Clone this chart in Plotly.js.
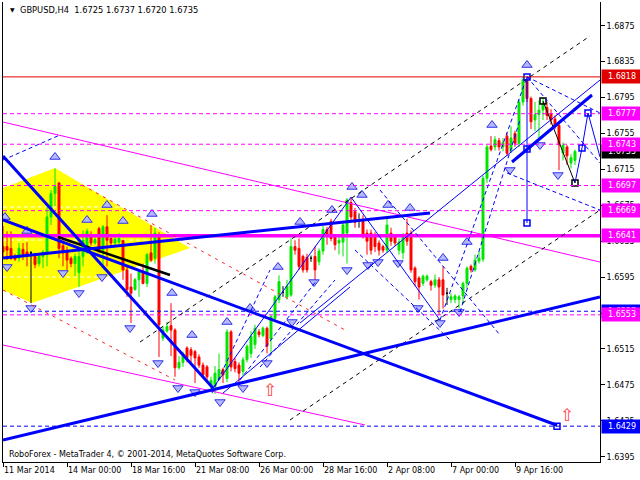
<!DOCTYPE html>
<html><head><meta charset="utf-8">
<script src="https://cdn.plot.ly/plotly-3.0.1.min.js"></script>
<style>html,body{margin:0;padding:0;background:#fff}#chart{width:640px;height:480px}</style>
</head><body><div id="chart"></div>
<script>
// ---------- DATA ----------
const barIndex = [2,3,4,5,6,7,8,9,10,11,12,13,14,15,16,17,18,19,20,21,22,23,24,25,26,27,28,29,30,31,32,33,34,35,36,37,38,39,40,41,42,43,44,45,46,47,48,49,50,51,52,53,54,55,56,57,58,59,60,61,62,63,64,65,66,67,68,69,70,71,72,73,74,75,76,77,78,79,80,81,82,83,84,85,86,87,88,89,90,91,92,93,94,95,96,97,98,99,100,101,102,103,104,105,106,107,108,109,110,111,112,113,114,115,116,117,118,119,120,121,122,123,124,125,126,127,128,129,130,131,132,133,134,135,136,137,138,139,140,141,142,143,144,145];
const opens = [
1.6629,1.6629,1.6627,1.6618,1.6616,1.6626,1.6623,1.6622,1.6618,1.6610,
1.6618,1.6622,1.6662,1.6688,1.6700,1.6630,1.6623,1.6616,1.6610,1.6600,
1.6618,1.6623,1.6642,1.6633,1.6649,1.6625,1.6651,1.6638,1.6633,1.6634,
1.6636,1.6603,1.6584,1.6581,1.6592,1.6601,1.6588,1.6622,1.6616,1.6642,
1.6527,1.6535,1.6541,1.6536,1.6494,1.6500,1.6516,1.6514,1.6512,1.6506,
1.6497,1.6495,1.6473,1.6473,1.6481,1.6492,1.6482,1.6534,1.6501,1.6497,
1.6490,1.6503,1.6510,1.6520,1.6534,1.6530,1.6538,1.6526,1.6549,1.6570,
1.6578,1.6573,1.6575,1.6629,1.6627,1.6618,1.6617,1.6616,1.6618,1.6612,
1.6624,1.6648,1.6657,1.6640,1.6633,1.6634,1.6644,1.6678,1.6668,1.6658,
1.6657,1.6644,1.6644,1.6642,1.6633,1.6629,1.6625,1.6644,1.6640,1.6625,
1.6622,1.6644,1.6644,1.6605,1.6594,1.6588,1.6592,1.6590,1.6586,1.6592,
1.6592,1.6577,1.6570,1.6570,1.6570,1.6574,1.6588,1.6607,1.6603,1.6613,
1.6615,1.6705,1.6741,1.6740,1.6747,1.6740,1.6752,1.6736,1.6755,1.6744,
1.6790,1.6815,1.6794,1.6770,1.6776,1.6781,1.6784,1.6777,1.6771,1.6764,
1.6733,1.6740,1.6722,1.6725];
const highs = [
1.6652,1.6646,1.6646,1.6621,1.6633,1.6633,1.6634,1.6624,1.6621,1.6620,
1.6625,1.6673,1.6692,1.6716,1.6700,1.6636,1.6629,1.6618,1.6621,1.6625,
1.6647,1.6649,1.6646,1.6640,1.6651,1.6653,1.6664,1.6641,1.6640,1.6644,
1.6636,1.6607,1.6599,1.6594,1.6603,1.6610,1.6622,1.6653,1.6650,1.6645,
1.6540,1.6545,1.6566,1.6538,1.6507,1.6512,1.6518,1.6517,1.6514,1.6509,
1.6500,1.6497,1.6484,1.6496,1.6510,1.6494,1.6537,1.6536,1.6505,1.6500,
1.6506,1.6520,1.6535,1.6542,1.6537,1.6540,1.6540,1.6553,1.6575,1.6597,
1.6585,1.6592,1.6638,1.6636,1.6638,1.6620,1.6621,1.6619,1.6629,1.6627,
1.6652,1.6651,1.6660,1.6643,1.6640,1.6656,1.6683,1.6684,1.6672,1.6666,
1.6664,1.6648,1.6648,1.6645,1.6636,1.6631,1.6660,1.6650,1.6643,1.6638,
1.6644,1.6660,1.6647,1.6607,1.6596,1.6598,1.6598,1.6592,1.6598,1.6595,
1.6607,1.6583,1.6577,1.6576,1.6575,1.6590,1.6607,1.6609,1.6620,1.6624,
1.6708,1.6742,1.6752,1.6752,1.6750,1.6750,1.6756,1.6763,1.6758,1.6793,
1.6818,1.6818,1.6796,1.6790,1.6792,1.6795,1.6790,1.6782,1.6775,1.6768,
1.6745,1.6742,1.6732,1.6737];
const lows = [
1.6616,1.6614,1.6614,1.6613,1.6612,1.6614,1.6607,1.6566,1.6605,1.6607,
1.6605,1.6607,1.6653,1.6674,1.6616,1.6607,1.6603,1.6606,1.6596,1.6584,
1.6607,1.6621,1.6630,1.6631,1.6622,1.6607,1.6607,1.6630,1.6631,1.6632,
1.6592,1.6573,1.6544,1.6580,1.6573,1.6587,1.6584,1.6612,1.6610,1.6506,
1.6524,1.6533,1.6507,1.6484,1.6492,1.6495,1.6500,1.6497,1.6477,1.6494,
1.6484,1.6480,1.6470,1.6465,1.6480,1.6477,1.6478,1.6490,1.6489,1.6475,
1.6485,1.6500,1.6505,1.6515,1.6528,1.6528,1.6510,1.6510,1.6545,1.6566,
1.6573,1.6570,1.6573,1.6620,1.6603,1.6600,1.6600,1.6612,1.6590,1.6608,
1.6620,1.6631,1.6635,1.6625,1.6620,1.6618,1.6610,1.6658,1.6650,1.6650,
1.6638,1.6620,1.6620,1.6623,1.6619,1.6622,1.6622,1.6630,1.6630,1.6620,
1.6615,1.6630,1.6600,1.6585,1.6570,1.6585,1.6590,1.6580,1.6583,1.6553,
1.6560,1.6564,1.6566,1.6566,1.6560,1.6565,1.6582,1.6600,1.6601,1.6610,
1.6612,1.6700,1.6735,1.6736,1.6736,1.6735,1.6730,1.6733,1.6740,1.6740,
1.6786,1.6790,1.6760,1.6758,1.6750,1.6770,1.6770,1.6765,1.6760,1.6714,
1.6725,1.6720,1.6716,1.6720];
const closes = [
1.6623,1.6625,1.6616,1.6615,1.6627,1.6620,1.6618,1.6622,1.6609,1.6618,
1.6623,1.6662,1.6688,1.6696,1.6627,1.6622,1.6614,1.6610,1.6618,1.6618,
1.6636,1.6646,1.6633,1.6637,1.6625,1.6651,1.6636,1.6633,1.6637,1.6638,
1.6603,1.6581,1.6577,1.6592,1.6601,1.6588,1.6620,1.6614,1.6644,1.6542,
1.6536,1.6540,1.6536,1.6494,1.6500,1.6510,1.6505,1.6508,1.6505,1.6497,
1.6486,1.6484,1.6480,1.6488,1.6492,1.6486,1.6534,1.6495,1.6493,1.6488,
1.6503,1.6518,1.6529,1.6538,1.6531,1.6538,1.6518,1.6551,1.6573,1.6590,
1.6578,1.6585,1.6629,1.6625,1.6607,1.6603,1.6603,1.6616,1.6603,1.6624,
1.6648,1.6640,1.6638,1.6631,1.6636,1.6653,1.6681,1.6662,1.6656,1.6658,
1.6640,1.6635,1.6625,1.6629,1.6625,1.6625,1.6653,1.6635,1.6633,1.6634,
1.6640,1.6635,1.6603,1.6590,1.6584,1.6596,1.6596,1.6586,1.6592,1.6584,
1.6575,1.6577,1.6573,1.6574,1.6573,1.6588,1.6605,1.6603,1.6614,1.6616,
1.6705,1.6740,1.6737,1.6748,1.6740,1.6745,1.6733,1.6750,1.6744,1.6790,
1.6815,1.6794,1.6768,1.6776,1.6781,1.6789,1.6775,1.6770,1.6763,1.6742,
1.6742,1.6730,1.6728,1.6735];

const timeTickBars = [2,18,34,50,66,82,98,114,130];
const timeTickLabels = ['11 Mar 2014','14 Mar 00:00','18 Mar 16:00','21 Mar 08:00','26 Mar 00:00','28 Mar 16:00','2 Apr 08:00','7 Apr 00:00','9 Apr 16:00'];
const priceTicks = [1.6395,1.6435,1.6475,1.6515,1.6555,1.6595,1.6635,1.6675,1.6715,1.6755,1.6795,1.6835,1.6875];

const redLevels = [1.6818];
const magentaDashLevels = [1.6777,1.6743,1.6697,1.6669,1.6553];
const magentaThickLevels = [1.6641];
const blueDashLevels = [1.6557,1.6429];
const whiteDashLevels = [1.66731,1.66363,1.65951];

const priceLabels = [1.6818,1.6777,1.6735,1.6743,1.6697,1.6669,1.6641,1.6557,1.6553,1.6429];

// trend lines: [bar0, price0, bar1, price1]
const thickBlueLines = [[2,1.67299,54.5,1.64715],[2,1.66586,140.5,1.6430],[2,1.66163,108.75,1.66664],[2,1.64136,151.25,1.65729],[129.25,1.67232,149.25,1.67978]];
const thickBlackLines = [[15.75,1.66397,43.75,1.65973]];
const magentaLines = [[2,1.67677,151.25,1.66118],[2,1.65194,92.5,1.64303]];
const redDottedLines = [[21.75,1.66976,87.5,1.65361],[2,1.65806,45,1.64804]];
const blackDashedLines = [[36.25,1.65227,148.75,1.68635],[73.75,1.64359,151.25,1.66697]];
const blueSolidLines = [[133,1.6818,133,1.66553],[76.25,1.65439,151.25,1.68145],[54.5,1.64715,89,1.6684],[89,1.6684,111.25,1.65472],[57,1.64659,88.75,1.6584],[145,1.66998,146.75,1.67388],[146.75,1.67388,148.25,1.67778],[148.25,1.67778,151.25,1.67288]];
const blueDashedLines = [[2,1.67254,16.25,1.67533],[96.25,1.6692,126.25,1.65305],[90,1.66252,113.75,1.6525],[61.25,1.64804,80.5,1.65918],[66.25,1.64949,85,1.65918],[54.25,1.64659,68.75,1.66029],[111.25,1.65472,133,1.6818],[116.25,1.65562,131.25,1.677],[133,1.6818,151.25,1.67778],[133,1.6818,151.25,1.67221],[128,1.6711,151.25,1.66697]];
const blackSolidLines = [[137,1.67911,145,1.66998]];

const triangleBars = [2,15,48.75,9.25,2];
const trianglePrices = [1.66942,1.67165,1.66274,1.65662,1.65807];

const upFractalBar = [15,28,23,32,39.25,8,2.5,44.25,49.25,58,63.75,70.75,76.25,84.25,89.25,91.75,98.25,103.75,112,118,124.25,133];
const upFractalPrice = [1.67288,1.66753,1.66586,1.66575,1.66653,1.66464,1.66619,1.65773,1.65305,1.6545,1.65606,1.66063,1.66564,1.66697,1.66954,1.66865,1.66753,1.6672,1.66163,1.66341,1.67644,1.68312];
const downFractalBar = [17,21,26.75,9,3,33.75,40.75,45.75,50,56.25,62,68,74.25,79.75,88,93.25,95.75,100.75,105.75,111.25,116,128.75,136.25,140.75];
const downFractalPrice = [1.65996,1.65773,1.65951,1.65606,1.66063,1.65383,1.64993,1.64715,1.6467,1.64559,1.64715,1.64993,1.6545,1.65895,1.66029,1.66085,1.66118,1.66107,1.65606,1.65439,1.65562,1.67143,1.67421,1.67087];

const blueSquareBar = [133,133,133,146.75,148.25,140.5];
const blueSquarePrice = [1.6818,1.67377,1.66553,1.67388,1.67778,1.6429];
const blackSquareBar = [137,145];
const blackSquarePrice = [1.67911,1.66998];
const signalBar = [68.75,143];
const signalPrice = [1.6467,1.64392];

// ---------- STYLE / BUILD ----------
const GREEN = '#00e600', RED = '#ff0000', BLUE = '#0000ff', MAG = '#ff00ff';
const isDoji = opens.map((o,k)=> o === closes[k]);
function pick(arr, want){ return arr.filter((v,k)=> isDoji[k] === want); }

const traces = [
  {type:'candlestick', x:pick(barIndex,false), open:pick(opens,false), high:pick(highs,false), low:pick(lows,false), close:pick(closes,false),
   increasing:{line:{color:GREEN,width:1}, fillcolor:GREEN}, decreasing:{line:{color:RED,width:1}, fillcolor:RED}, hoverinfo:'skip'},
  {type:'candlestick', x:pick(barIndex,true), open:pick(opens,true), high:pick(highs,true), low:pick(lows,true), close:pick(closes,true),
   increasing:{line:{color:'#000',width:1}, fillcolor:'#000'}, decreasing:{line:{color:'#000',width:1}, fillcolor:'#000'}, hoverinfo:'skip'},
  {type:'scatter', mode:'markers', x:upFractalBar, y:upFractalPrice, marker:{symbol:'triangle-up', size:9, color:'#b4b8ff', line:{color:'#3030e8', width:1}}, hoverinfo:'skip'},
  {type:'scatter', mode:'markers', x:downFractalBar, y:downFractalPrice, marker:{symbol:'triangle-down', size:9, color:'#b4b8ff', line:{color:'#3030e8', width:1}}, hoverinfo:'skip'},
  {type:'scatter', mode:'markers', x:blueSquareBar, y:blueSquarePrice, marker:{symbol:'square-open', size:6, color:BLUE, line:{color:BLUE, width:1.5}}, hoverinfo:'skip'},
  {type:'scatter', mode:'markers', x:blackSquareBar, y:blackSquarePrice, marker:{symbol:'square-open', size:6, color:'#000', line:{color:'#000', width:1.5}}, hoverinfo:'skip'},
  {type:'scatter', mode:'text', x:signalBar, y:signalPrice, text:signalBar.map(()=> '\u21E7'), textposition:'middle center', textfont:{family:'DejaVu Sans', size:17, color:'#ff4040'}, hoverinfo:'skip'}
];

const shapes = [];
shapes.push({type:'path', xref:'x', yref:'y', layer:'below',
  path:'M' + triangleBars.map((b,k)=> b + ',' + trianglePrices[k]).join('L') + 'Z',
  fillcolor:'#ffff00', line:{width:0}});
whiteDashLevels.forEach(p => shapes.push({type:'line', xref:'x', yref:'y', layer:'below', x0:2, x1:48.75, y0:p, y1:p, line:{color:'#ffffff', width:1, dash:'4px,3px'}}));
function hline(p, color, width, dash){ shapes.push({type:'line', xref:'paper', yref:'y', x0:0, x1:1, y0:p, y1:p, line:{color, width, dash}}); }
redLevels.forEach(p => hline(p, '#e00000', 1, 'solid'));
magentaDashLevels.forEach(p => hline(p, MAG, 1, '4px,3px'));
blueDashLevels.forEach(p => hline(p, BLUE, 1, '4px,3px'));
magentaThickLevels.forEach(p => hline(p, MAG, 3.5, 'solid'));
function seg(list, color, width, dash){ list.forEach(s => shapes.push({type:'line', xref:'x', yref:'y', x0:s[0], y0:s[1], x1:s[2], y1:s[3], line:{color, width, dash}})); }
seg(magentaLines, MAG, 1, 'solid');
seg(redDottedLines, '#ff2020', 1, '3px,5px');
seg(blackDashedLines, '#000', 1, '4px,4px');
seg(blueDashedLines, BLUE, 1, '4px,3px');
seg(blueSolidLines, BLUE, 1, 'solid');
seg(blackSolidLines, '#000', 1, 'solid');
seg(thickBlackLines, '#000', 2.5, 'solid');
seg(thickBlueLines, BLUE, 3, 'solid');

const labelColors = ['#e00000',MAG,'#000000',MAG,MAG,MAG,MAG,BLUE,MAG,BLUE];
const annotations = priceLabels.map((p,k)=> ({xref:'paper', x:1, xanchor:'left', xshift:1, yref:'y', y:p, yanchor:'middle',
  text:p.toFixed(4), showarrow:false, bgcolor:labelColors[k], width:38, height:11, align:'center', borderpad:1,
  font:{family:'DejaVu Sans', size:8, color:'#ffffff'}}));
annotations.push({xref:'paper', yref:'paper', x:(8-3)/597, y:1-(9-2)/460, xanchor:'left', yanchor:'middle', showarrow:false,
  text:'\u25BC', font:{family:'DejaVu Sans', size:6, color:'#000'}});
annotations.push({xref:'paper', yref:'paper', x:(18-3)/597, y:1-(10-2)/460, xanchor:'left', yanchor:'middle', showarrow:false,
  text:'GBPUSD,H4\u00a0\u00a0' + [opens[opens.length-1], highs[highs.length-1], lows[lows.length-1], closes[closes.length-1]].map(v=>v.toFixed(4)).join(' '),
  font:{family:'DejaVu Sans', size:8.3, color:'#000'}});
annotations.push({xref:'paper', yref:'paper', x:(7-3)/597, y:1-(454-2)/460, xanchor:'left', yanchor:'middle', showarrow:false,
  text:'RoboForex - MetaTrader 4, \u00a9 2001-2014, MetaQuotes Software Corp.', font:{family:'DejaVu Sans', size:8, color:'#000'}});

const layout = {
  width:640, height:480, margin:{l:3, r:40, t:2, b:18, pad:0},
  paper_bgcolor:'#ffffff', plot_bgcolor:'#ffffff', showlegend:false,
  font:{family:'DejaVu Sans', size:8, color:'#000'},
  xaxis:{range:[2,151.25], tickmode:'array', tickvals:timeTickBars, ticktext:timeTickLabels, tickangle:0,
    ticks:'outside', ticklen:4, tickcolor:'#000', ticklabelposition:'outside right',
    tickfont:{family:'DejaVu Sans', size:8, color:'#000'},
    showline:true, linecolor:'#000', linewidth:1, showgrid:false, zeroline:false, rangeslider:{visible:false}, fixedrange:true},
  yaxis:{range:[1.63891,1.690139], side:'right', tickmode:'array', tickvals:priceTicks, ticktext:priceTicks.map(v=>v.toFixed(4)),
    ticks:'outside', ticklen:4, tickcolor:'#000', tickfont:{family:'DejaVu Sans', size:8, color:'#000'},
    showline:true, mirror:true, linecolor:'#000', linewidth:1, showgrid:false, zeroline:false, fixedrange:true},
  shapes, annotations
};
Plotly.newPlot('chart', traces, layout, {staticPlot:true, displayModeBar:false});
</script></body></html>
